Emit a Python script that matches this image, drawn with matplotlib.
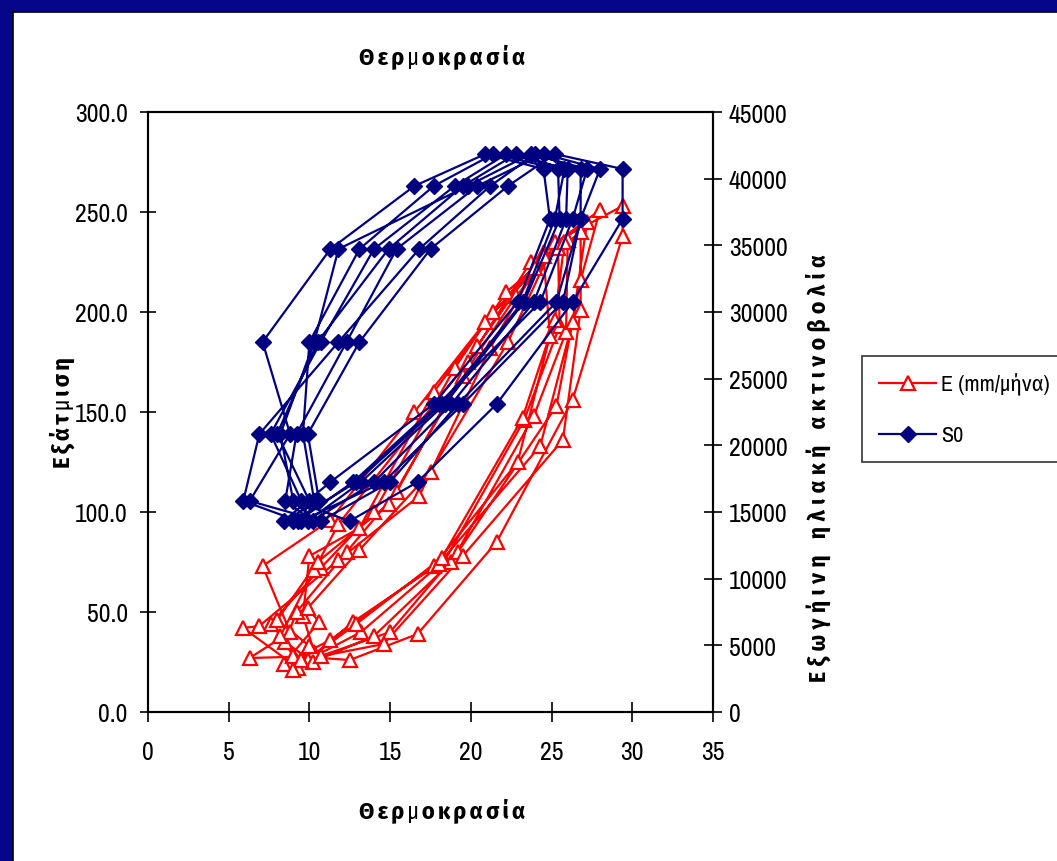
import matplotlib
matplotlib.use("Agg")
import matplotlib.pyplot as plt
from matplotlib.patches import Rectangle
from matplotlib.lines import Line2D

plt.rcParams['font.family'] = ['Archivo Narrow', 'Fira Sans Condensed', 'DejaVu Sans']

# extraterrestrial radiation, one value per month (Jan..Dec)
s0_month = [15825, 20850, 27750, 34725, 39450, 41850, 40725, 36975, 30750, 23100, 17250, 14325]

# monthly temperature per year (Jan..Dec)
temp_y1 = [10.3, 9.6, 10.0, 13.1, 17.7, 21.4, 25.4, 25.5, 23.3, 18.4, 13.2, 9.9]
temp_y2 = [9.5, 7.6, 10.7, 14.0, 19.0, 22.2, 26.0, 25.9, 23.9, 18.8, 14.0, 10.2]
temp_y3 = [8.5, 9.2, 12.3, 15.4, 20.4, 24.5, 28.0, 26.8, 25.3, 19.2, 15.0, 10.7]
temp_y4 = [6.3, 8.8, 7.1, 11.3, 16.5, 20.9, 24.5, 24.9, 22.9, 17.7, 11.3, 8.4]
temp_y5 = [10.6, 9.9, 13.1, 17.5, 22.3, 25.2, 29.4, 29.4, 26.3, 21.6, 16.7, 12.5]
temp_y6 = [9.0, 8.2, 10.3, 11.8, 19.8, 23.7, 27.2, 26.3, 24.3, 18.0, 12.7, 9.3]
temp_y7 = [5.9, 6.9, 11.8, 16.8, 21.2, 24.0, 26.8, 26.8, 25.7, 19.5, 14.6, 9.5]
temp_y8 = [10.0, 8.0, 10.5, 14.9, 19.5, 22.8, 25.8, 25.2, 23.2, 18.2, 12.9, 9.0]

# monthly evaporation (mm/month) per year
evap_y1 = [30, 48, 78, 92, 160, 200, 232, 193, 146, 76, 40, 26]
evap_y2 = [26, 44, 72, 100, 172, 210, 236, 190, 148, 75, 38, 25]
evap_y3 = [35, 50, 80, 110, 183, 230, 251, 216, 153, 80, 40, 28]
evap_y4 = [27, 40, 73, 96, 150, 195, 228, 188, 125, 73, 36, 24]
evap_y5 = [45, 52, 81, 120, 185, 235, 253, 238, 156, 85, 39, 26]
evap_y6 = [28, 38, 71, 94, 175, 225, 245, 195, 133, 74, 45, 22]
evap_y7 = [42, 43, 76, 108, 182, 222, 240, 201, 136, 78, 34, 26]
evap_y8 = [33, 46, 75, 104, 168, 208, 235, 196, 147, 77, 44, 21]

temp = temp_y1 + temp_y2 + temp_y3 + temp_y4 + temp_y5 + temp_y6 + temp_y7 + temp_y8
evap = evap_y1 + evap_y2 + evap_y3 + evap_y4 + evap_y5 + evap_y6 + evap_y7 + evap_y8
s0 = s0_month * 8

RED = '#ff0000'
NAVY = '#000080'
TICK_FS = 18.5

fig = plt.figure(figsize=(10.57, 8.62), dpi=100)
fig.patch.set_facecolor('white')

# dark blue slide frame (top and left)
fig.patches.append(Rectangle((0, 1 - 13 / 862), 1, 13 / 862, transform=fig.transFigure,
                             facecolor='#06068a', edgecolor='none', zorder=0))
fig.patches.append(Rectangle((0, 0), 13 / 1057, 1, transform=fig.transFigure,
                             facecolor='#06068a', edgecolor='none', zorder=0))
fig.add_artist(Line2D([13 / 1057, 1], [1 - 13 / 862, 1 - 13 / 862], transform=fig.transFigure,
                      color='black', lw=1.2))
fig.add_artist(Line2D([13 / 1057, 13 / 1057], [0, 1 - 13 / 862], transform=fig.transFigure,
                      color='black', lw=1.2))

ax = fig.add_axes([148 / 1057, 149 / 862, 565 / 1057, 600 / 862])
ax2 = ax.twinx()

ax.plot(temp, evap, color=RED, lw=1.6, marker='^', ms=10, mfc='white', mec=RED, mew=1.6,
        zorder=2)
ax2.plot(temp, s0, color=NAVY, lw=1.6, marker='D', ms=8, mfc=NAVY, mec=NAVY, zorder=3)

ax.set_xlim(0, 35)
ax.set_ylim(0, 300)
ax2.set_ylim(0, 45000)
ax.set_xticks(range(0, 36, 5))
ax.set_yticks(range(0, 301, 50))
ax.set_yticklabels([f'{v:.1f}' for v in range(0, 301, 50)])
ax2.set_yticks(range(0, 45001, 5000))

for a in (ax, ax2):
    for s in a.spines.values():
        s.set_linewidth(1.5)
        s.set_color('black')
ax.tick_params(axis='x', direction='inout', length=14, width=1.2, labelsize=TICK_FS, pad=13)
ax.tick_params(axis='y', direction='inout', length=12, width=1.2, labelsize=TICK_FS, pad=8.5)
ax2.tick_params(axis='y', direction='inout', length=13, width=1.2, labelsize=TICK_FS, pad=5)
ax2.patch.set_visible(False)

bold = dict(fontweight='bold', fontsize=17.5)
thin = '\u2009'
fig.text(442 / 1057, 1 - 58 / 862, thin.join('Θερμοκρασία'), ha='center', va='center', **bold)
fig.text(442 / 1057, 1 - 812 / 862, thin.join('Θερμοκρασία'), ha='center', va='center', **bold)
fig.text(62 / 1057, 1 - 412 / 862, thin.join('Εξάτμιση'), ha='center', va='center',
         rotation=90, **bold)
fig.text(818 / 1057, 1 - 468 / 862, '\u2009\u200a'.join('Εξωγήινη ηλιακή ακτινοβολία'),
         ha='center', va='center', rotation=90, fontweight='bold', fontsize=17)

handles = [
    Line2D([], [], color=RED, lw=1.6, marker='^', ms=10, mfc='white', mec=RED, mew=1.6),
    Line2D([], [], color=NAVY, lw=1.6, marker='D', ms=8, mfc=NAVY, mec=NAVY),
]
leg = fig.legend(handles, ['E (mm/μήνα)', 'S0'], loc='upper left',
                 bbox_to_anchor=(862 / 1057, 1 - 357 / 862), fontsize=16, frameon=True,
                 fancybox=False, edgecolor='black', handlelength=2.6, handletextpad=0.2,
                 borderpad=0.75, labelspacing=1.35, borderaxespad=0)
leg.get_frame().set_linewidth(1.2)

fig.savefig('out.png', dpi=100, facecolor='white')
